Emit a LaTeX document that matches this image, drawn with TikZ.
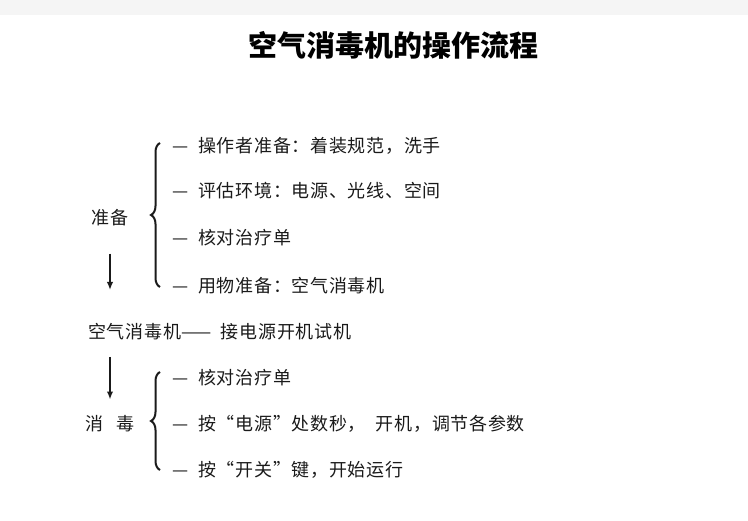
\documentclass[tikz,border=0pt]{standalone}
\usepackage{fontspec}
\usepackage{xcolor}
\usepackage{tikz}
\usetikzlibrary{arrows.meta,positioning,decorations.pathreplacing}
\newfontfamily\cjk{Noto Sans CJK SC}
\newfontfamily\cjkwide{Noto Sans CJK SC}[LetterSpace=4]
\definecolor{BandGray}{HTML}{F5F5F5}
\definecolor{InkDark}{HTML}{1A1A1A}

\begin{document}
\begin{tikzpicture}[
	x=1pt, y=-1pt,
	txt/.style={inner sep=0pt, text=InkDark, font=\cjkwide\fontsize{18}{20}\selectfont},
	item/.style={txt, anchor=west},
	arrow/.style={-{Latex[length=8pt,width=6.5pt]}, line width=1.8pt, InkDark},
	brace/.style={decorate, decoration={brace, amplitude=9pt}, line width=2pt, InkDark}
]
\useasboundingbox (0,0) rectangle (748,521);
\fill[BandGray] (0,0) rectangle (748,15);

\node[txt, text=black, font=\cjk\bfseries\fontsize{29}{32}\selectfont] (title) at (393,45) {空气消毒机的操作流程};

% preparation
\node[txt] (prep) at (110,218) {准备};
\coordinate (b1top) at (160,143);
\coordinate (b1bot) at (160,287);
\draw[brace] (b1bot) -- (b1top);
\node[item] (p1) at (172,146) {—\hspace{0.55em}操作者准备：着装规范，洗手};
\node[item] (p2) at (172,191) {—\hspace{0.55em}评估环境：电源、光线、空间};
\node[item] (p3) at (172,238) {—\hspace{0.55em}核对治疗单};
\node[item] (p4) at (172,286) {—\hspace{0.55em}用物准备：空气消毒机};

% test run
\node[item] (test) at (88,332) {空气消毒机——\hspace{0.5em}接电源开机试机};

% disinfection
\node[txt] (dis) at (110,424) {消\hspace{0.7em}毒};
\coordinate (b2top) at (160,372);
\coordinate (b2bot) at (160,470);
\draw[brace] (b2bot) -- (b2top);
\node[item] (d1) at (172,378) {—\hspace{0.55em}核对治疗单};
\node[item] (d2) at (172,424) {—\hspace{0.55em}按“电源”处数秒，\hspace{0.55em}开机，调节各参数};
\node[item] (d3) at (172,470) {—\hspace{0.55em}按“开关”键，开始运行};

\draw[arrow, shorten <=27pt, shorten >=42pt] (prep) -- (prep |- test);
\draw[arrow, shorten <=25pt, shorten >=16pt] (dis |- test) -- (dis);
\end{tikzpicture}
\end{document}
